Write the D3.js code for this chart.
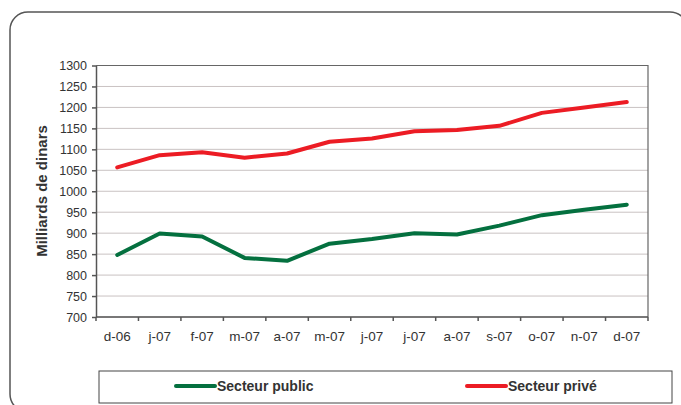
<!DOCTYPE html>
<html>
  <head>
    <meta charset="utf-8">
    <title>Secteur public / Secteur privé</title>
    <script src="https://cdn.jsdelivr.net/npm/d3@7"></script>
    <style>
      body { margin: 0; background: #fff; }
      svg { display: block; font-family: "Liberation Sans", Arial, sans-serif; }
      .grid line { stroke: #c9c2c2; stroke-width: 1; }
      .axis path, .axis line { stroke: #555; stroke-width: 1.5; }
      .axis text { fill: #333; }
    </style>
  </head>
  <body>
    <svg id="chart" width="681" height="405"></svg>
    <script>
      // data
      var months = ["d-06", "j-07", "f-07", "m-07", "a-07", "m-07", "j-07", "j-07", "a-07", "s-07", "o-07", "n-07", "d-07"];
      var publicSector = [848, 899, 892, 841, 834, 875, 886, 900, 897, 918, 943, 956, 968];
      var privateSector = [1057, 1086, 1093, 1080, 1090, 1118, 1126, 1143, 1146, 1156, 1187, 1200, 1213];
      var yTicks = [700, 750, 800, 850, 900, 950, 1000, 1050, 1100, 1150, 1200, 1250, 1300];

      var series = [
        { name: "Secteur public", values: publicSector, color: "#04703f" },
        { name: "Secteur privé", values: privateSector, color: "#ec1c24" }
      ];

      var svg = d3.select("#chart");
      var plotL = 96, plotR = 648, plotT = 65.5, plotB = 317;

      // outer rounded frame
      svg.append("rect")
          .attr("x", 10).attr("y", 12)
          .attr("width", 678).attr("height", 400)
          .attr("rx", 18)
          .attr("fill", "none")
          .attr("stroke", "#555")
          .attr("stroke-width", 1.5);

      var x = d3.scaleBand().domain(d3.range(months.length)).range([plotL, plotR]);
      var y = d3.scaleLinear().domain([700, 1300]).range([plotB, plotT]);

      // gridlines
      svg.append("g")
          .attr("class", "grid")
        .selectAll("line")
        .data(yTicks)
        .enter().append("line")
          .attr("x1", plotL).attr("x2", plotR)
          .attr("y1", function(d) { return y(d); })
          .attr("y2", function(d) { return y(d); });

      // plot area border (top + right)
      svg.append("path")
          .attr("d", "M" + plotL + "," + plotT + "H" + plotR + "V" + plotB)
          .attr("fill", "none")
          .attr("stroke", "#666")
          .attr("stroke-width", 1.2);

      // y axis
      var yAxis = svg.append("g")
          .attr("class", "axis")
          .attr("transform", "translate(" + plotL + ",0)")
          .call(d3.axisLeft(y).tickValues(yTicks).tickFormat(d3.format("d")).tickSize(4).tickPadding(5).tickSizeOuter(0));
      yAxis.selectAll("text").style("font-size", "12.5px").attr("font-family", null);
      yAxis.attr("font-family", null).attr("font-size", null);

      // x axis: ticks between categories
      var xAxis = svg.append("g")
          .attr("class", "axis")
          .attr("transform", "translate(0," + plotB + ")");
      xAxis.append("line")
          .attr("x1", plotL).attr("x2", plotR);
      xAxis.selectAll(".tk")
          .data(d3.range(months.length + 1))
          .enter().append("line")
          .attr("class", "tk")
          .attr("x1", function(i) { return plotL + i * x.step(); })
          .attr("x2", function(i) { return plotL + i * x.step(); })
          .attr("y1", 0).attr("y2", 4);
      xAxis.selectAll("text")
          .data(months)
          .enter().append("text")
          .attr("x", function(d, i) { return x(i) + x.bandwidth() / 2; })
          .attr("y", 24)
          .attr("text-anchor", "middle")
          .style("font-size", "13.5px")
          .text(function(d) { return d; });

      // axis title
      svg.append("text")
          .attr("transform", "translate(47,191) rotate(-90)")
          .attr("text-anchor", "middle")
          .style("font-size", "15px")
          .style("font-weight", "bold")
          .attr("fill", "#333")
          .text("Milliards de dinars");

      // lines
      var line = d3.line()
          .x(function(d, i) { return x(i) + x.bandwidth() / 2; })
          .y(function(d) { return y(d); });

      svg.selectAll(".series")
        .data(series)
        .enter().append("path")
          .attr("class", "series")
          .attr("d", function(d) { return line(d.values); })
          .attr("fill", "none")
          .attr("stroke", function(d) { return d.color; })
          .attr("stroke-width", 4)
          .attr("stroke-linejoin", "round")
          .attr("stroke-linecap", "round");

      // legend
      var legend = svg.append("g");
      legend.append("rect")
          .attr("x", 99).attr("y", 371)
          .attr("width", 573).attr("height", 32)
          .attr("fill", "#fff")
          .attr("stroke", "#444")
          .attr("stroke-width", 1);

      var items = legend.selectAll(".item")
        .data(series)
        .enter().append("g")
          .attr("class", "item")
          .attr("transform", function(d, i) { return "translate(" + [176, 467][i] + ",386)"; });
      items.append("line")
          .attr("x1", 0).attr("x2", 39)
          .attr("stroke", function(d) { return d.color; })
          .attr("stroke-width", 4)
          .attr("stroke-linecap", "round");
      items.append("text")
          .attr("x", 41).attr("dy", "0.36em")
          .style("font-size", "14px")
          .style("font-weight", "bold")
          .attr("fill", "#333")
          .text(function(d) { return d.name; });
    </script>
  </body>
</html>
